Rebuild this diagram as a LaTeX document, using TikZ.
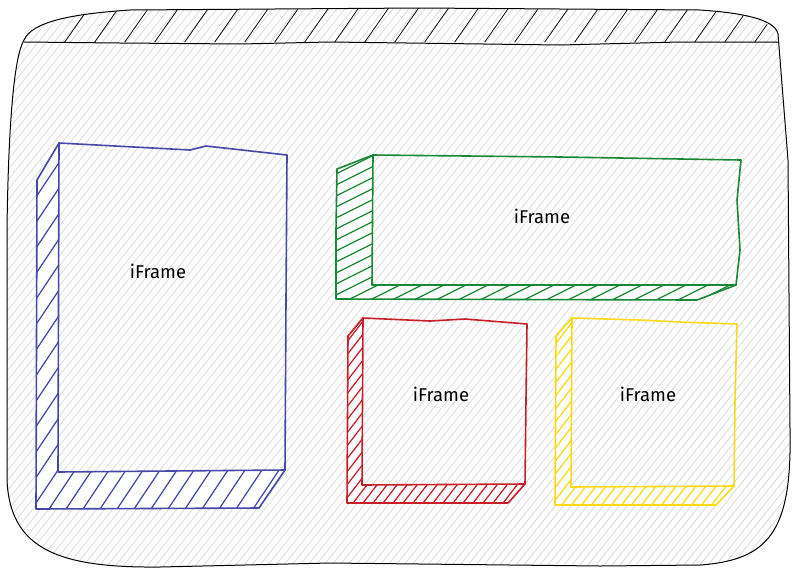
\documentclass[tikz,border=0pt]{standalone}
\usepackage{fontspec}
\setmainfont{Fira Sans}
\usetikzlibrary{calc}
\definecolor{frameblue}{RGB}{70,72,168}
\definecolor{framegreen}{RGB}{24,136,56}
\definecolor{framered}{RGB}{200,30,40}
\definecolor{frameyellow}{RGB}{252,218,24}
\tikzset{
  window/.style={draw=black, line width=1pt, line join=round},
  bghatch/.style={gray!30, line width=0.75pt},
  barhatch/.style={black, line width=0.75pt},
  frontface/.style={line width=1.6pt, line join=round, line cap=round},
  shadelines/.style={line width=1.25pt},
  framelabel/.style={font=\fontsize{18.5}{22}\selectfont}
}
\begin{document}
\begin{tikzpicture}[x=1pt,y=-1pt]
\useasboundingbox (0,0) rectangle (799,571);
% browser window with light background hatching
\begin{scope}
\clip (24,40) .. controls (32,22) and (70,14) .. (130,10) -- (420,8) -- (700,10) .. controls (760,14) and (776,24) .. (778,34) -- (788,160) -- (790,430) .. controls (792,530) and (770,560) .. (700,565) -- (600,566) -- (330,563) -- (160,567) .. controls (60,568) and (10,550) .. (7,480) -- (7,230) .. controls (8,150) and (12,60) .. (24,40) -- cycle;
\fill[white] (0,0) rectangle (799,571);
\foreach \x in {-480,-472,...,800} \draw[bghatch] (\x,580) -- ++(480,-600);
\end{scope}
% title bar
\begin{scope}
\clip (24,42) .. controls (32,22) and (70,14) .. (130,10) -- (420,8) -- (700,10) .. controls (760,14) and (776,24) .. (778,42) -- cycle;
\foreach \x in {62,92,...,770} \draw[barhatch] (\x,46) -- ++(28,-40);
\end{scope}
\draw[window] (24,40) .. controls (32,22) and (70,14) .. (130,10) -- (420,8) -- (700,10) .. controls (760,14) and (776,24) .. (778,34) -- (788,160) -- (790,430) .. controls (792,530) and (770,560) .. (700,565) -- (600,566) -- (330,563) -- (160,567) .. controls (60,568) and (10,550) .. (7,480) -- (7,230) .. controls (8,150) and (12,60) .. (24,40) -- cycle;
\draw[window] (24,42) -- (120,43) -- (240,44) -- (330,42) -- (560,45) -- (680,42) -- (778,42);

% blue iFrame
\coordinate (bnw) at (59,143);
\coordinate (bne) at (287,155);
\coordinate (bse) at (285,470);
\coordinate (bsw) at (58,472);
\begin{scope}
\clip (bnw) -- ($(bnw)+(-22,37)$) -- ($(bsw)+(-22,37)$) -- ($(bse)+(-26,38)$) -- (bse) -- (bsw) -- cycle;
\fill[white] (0,0) rectangle (799,571);
\foreach \x in {-240,-223,...,300} \draw[shadelines, frameblue] (\x,560) -- ++(280,-420);
\end{scope}
\draw[frontface, frameblue] (bnw) -- ($(bnw)+(-22,37)$) -- ($(bsw)+(-22,37)$) -- ($(bse)+(-26,38)$) -- (bse);
\draw[frontface, frameblue] (bnw) -- (190,150) -- (206,146) -- (bne) -- (286,300) -- (bse) -- (170,471) -- (bsw) -- cycle;
\node[framelabel] (blueframe) at (158,271) {iFrame};

% green iFrame
\coordinate (gnw) at (373,155);
\coordinate (gne) at (741,160);
\coordinate (gse) at (736,285);
\coordinate (gsw) at (372,285);
\begin{scope}
\clip (gnw) -- ($(gnw)+(-36,14)$) -- ($(gsw)+(-36,14)$) -- ($(gse)+(-39,15)$) -- (gse) -- (gsw) -- cycle;
\fill[white] (0,0) rectangle (799,571);
\foreach \x in {0,22,...,720} \draw[shadelines, framegreen] (\x,320) -- ++(400,-200);
\end{scope}
\draw[frontface, framegreen] (gnw) -- ($(gnw)+(-36,14)$) -- (336,230) -- ($(gsw)+(-36,14)$) -- ($(gse)+(-39,15)$) -- (gse);
\draw[frontface, framegreen] (gnw) -- (560,157) -- (gne) -- (737,200) -- (740,250) -- (gse) -- (gsw) -- cycle;
\node[framelabel] (greenframe) at (542,216) {iFrame};

% red iFrame
\coordinate (rnw) at (363,318);
\coordinate (rne) at (527,324);
\coordinate (rse) at (525,484);
\coordinate (rsw) at (362,485);
\begin{scope}
\clip (rnw) -- ($(rnw)+(-15,18)$) -- ($(rsw)+(-15,18)$) -- ($(rse)+(-17,19)$) -- (rse) -- (rsw) -- cycle;
\fill[white] (0,0) rectangle (799,571);
\foreach \x in {190,200,...,530} \draw[shadelines, framered] (\x,520) -- ++(200,-260);
\end{scope}
\draw[frontface, framered] (rnw) -- ($(rnw)+(-15,18)$) -- ($(rsw)+(-15,18)$) -- ($(rse)+(-17,19)$) -- (rse);
\draw[frontface, framered] (rnw) -- (430,321) -- (465,319) -- (rne) -- (526,400) -- (rse) -- (rsw) -- cycle;
\node[framelabel] (redframe) at (441,394) {iFrame};

% yellow iFrame
\coordinate (ynw) at (572,318);
\coordinate (yne) at (737,324);
\coordinate (yse) at (734,486);
\coordinate (ysw) at (571,487);
\begin{scope}
\clip (ynw) -- ($(ynw)+(-16,18)$) -- ($(ysw)+(-16,18)$) -- ($(yse)+(-18,19)$) -- (yse) -- (ysw) -- cycle;
\fill[white] (0,0) rectangle (799,571);
\foreach \x in {400,410,...,740} \draw[shadelines, frameyellow] (\x,520) -- ++(200,-260);
\end{scope}
\draw[frontface, frameyellow] (ynw) -- ($(ynw)+(-16,18)$) -- ($(ysw)+(-16,18)$) -- ($(yse)+(-18,19)$) -- (yse);
\draw[frontface, frameyellow] (ynw) -- (640,320) -- (680,322) -- (yne) -- (735,400) -- (yse) -- (ysw) -- cycle;
\node[framelabel] (yellowframe) at (648,394) {iFrame};
\end{tikzpicture}
\end{document}
